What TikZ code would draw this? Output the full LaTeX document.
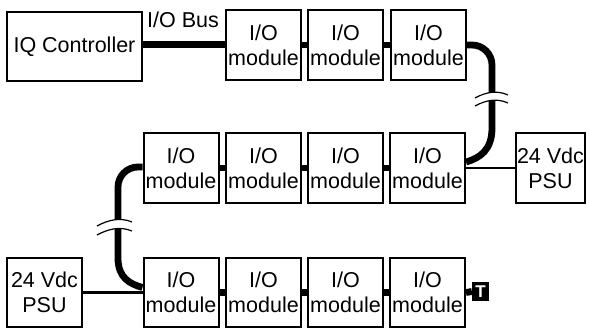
\documentclass[tikz,border=0pt]{standalone}
\usepackage{fontspec}
\setmainfont{Liberation Sans}
\usetikzlibrary{calc}
\begin{document}
\begin{tikzpicture}[x=1pt,y=-1pt,
  box/.style={draw, line width=2pt, minimum width=75pt, minimum height=70pt, inner sep=0pt, align=center, font=\fontsize{21.5}{25}\selectfont},
  bus/.style={line width=6.8pt},
  cable/.style={line width=6.8pt},
  wire/.style={line width=2.2pt},
  lbl/.style={font=\fontsize{21.5}{25}\selectfont, inner sep=0pt},
  wave/.style={line width=1.2pt},
  gap/.style={fill=white, draw=none}]
\useasboundingbox (0,0) rectangle (589,329);

% nodes
\node[box, minimum width=135pt, minimum height=69pt] (iq) at (74.5,46.5) {IQ Controller};
\node[box] (t2) at (263.5,45) {I/O\\module};
\node[box] (t3) at (345.5,45) {I/O\\module};
\node[box] (t4) at (428.5,45) {I/O\\module};

\node[box] (m1) at (181,168) {I/O\\module};
\node[box] (m2) at (263.5,168) {I/O\\module};
\node[box] (m3) at (345.5,168) {I/O\\module};
\node[box] (m4) at (427.5,168) {I/O\\module};
\node[box, minimum width=69pt] (psuR) at (550.5,168) {24 Vdc\\PSU};

\node[box, minimum height=69pt] (psuL) at (44.5,292.5) {24 Vdc\\PSU};
\node[box, minimum height=69pt] (b1) at (181,292.5) {I/O\\module};
\node[box, minimum height=69pt] (b2) at (263.5,292.5) {I/O\\module};
\node[box, minimum height=69pt] (b3) at (345.5,292.5) {I/O\\module};
\node[box, minimum height=69pt] (b4) at (427.5,292.5) {I/O\\module};

\node[fill=black, minimum width=17pt, minimum height=19pt, inner sep=0pt, text=white, font=\bfseries\fontsize{17}{17}\selectfont] (term) at (480.5,291.5) {T};

\node[lbl] (buslbl) at (183,20) {I/O Bus};

% bus
\draw[bus] ([yshift=2pt]iq.east) -- ([yshift=2pt]iq.east -| t2.west);
\draw[bus] (t2.east) -- (t3.west);
\draw[bus] (t3.east) -- (t4.west);
\draw[bus] (m1.east) -- (m2.west);
\draw[bus] (m2.east) -- (m3.west);
\draw[bus] (m3.east) -- (m4.west);
\draw[bus] (b1.east) -- (b2.west);
\draw[bus] (b2.east) -- (b3.west);
\draw[bus] (b3.east) -- (b4.west);
\draw[bus] (b4.east) -- (term.west);

% power wires
\draw[wire] (m4.east) -- (psuR.west);
\draw[wire] (psuL.east) -- (b1.west);

% right cable
\draw[cable] (t4.east) -- (472,45) arc[start angle=-90, end angle=0, radius=20]
  -- (492,128) .. controls (492,150) and (480,158) .. ($(m4.east)+(0,-6)$);
% left cable
\draw[cable] ($(m1.west)+(0,-1)$) -- (138,167) arc[start angle=-90, end angle=-180, radius=20]
  -- (118,258) .. controls (118,278) and (130,284) .. ($(b1.west)+(0,-5)$);

% break marks right
\fill[gap] (475,98) .. controls (486,92) and (497,90) .. (508,95) -- (508,103) .. controls (497,98) and (486,100) .. (475,106) -- cycle;
\draw[wave] (475,98) .. controls (486,92) and (497,90) .. (508,95);
\draw[wave] (475,106) .. controls (486,100) and (497,98) .. (508,103);
% break marks left
\fill[gap] (97,226) .. controls (108,220) and (120,217) .. (132,222) -- (132,231) .. controls (120,226) and (108,229) .. (97,235) -- cycle;
\draw[wave] (97,226) .. controls (108,220) and (120,217) .. (132,222);
\draw[wave] (97,235) .. controls (108,229) and (120,226) .. (132,231);
\end{tikzpicture}
\end{document}
